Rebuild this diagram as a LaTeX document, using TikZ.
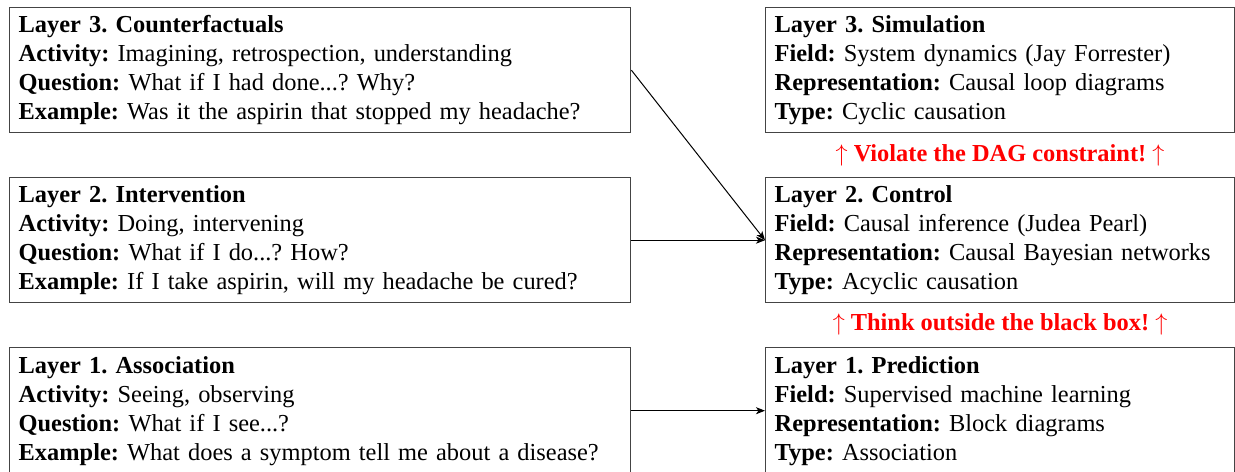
\documentclass[tikz,border=0pt]{standalone}
\usepackage{fontspec}
\setmainfont{Liberation Serif}
\usetikzlibrary{arrows.meta}
\definecolor{boxgray}{HTML}{444444}
\definecolor{warnred}{HTML}{FF0000}
\frenchspacing
\begin{document}
\begin{tikzpicture}[x=0.5pt,y=-0.5pt,
  bodyfont/.style={font=\fontsize{12.2}{14.5}\selectfont},
  lbox/.style={draw=boxgray, line width=0.7pt, anchor=north west, inner xsep=4.5pt, inner ysep=0pt,
    text width=301.5pt, minimum height=62.5pt, align=left, bodyfont},
  rbox/.style={lbox, text width=225.5pt},
  conn/.style={line width=0.5pt, -{Stealth[length=4.5pt,width=3.5pt,inset=1.2pt]}},
  warn/.style={text=warnred, font=\fontsize{12.2}{14.5}\selectfont\bfseries}]
\useasboundingbox (0,0) rectangle (1235,471);
\node[lbox] (l3) at (9,7) {\textbf{Layer 3. Counterfactuals}\\
\textbf{Activity:} Imagining, retrospection, understanding\\
\textbf{Question:} What if I had done...? Why?\\
\textbf{Example:} Was it the aspirin that stopped my headache?};
\node[lbox] (l2) at (9,177) {\textbf{Layer 2. Intervention}\\
\textbf{Activity:} Doing, intervening\\
\textbf{Question:} What if I do...? How?\\
\textbf{Example:} If I take aspirin, will my headache be cured?};
\node[lbox, minimum height=63pt] (l1) at (9,347) {\textbf{Layer 1. Association}\\
\textbf{Activity:} Seeing, observing\\
\textbf{Question:} What if I see...?\\
\textbf{Example:} What does a symptom tell me about a disease?};
\node[rbox] (r3) at (765,7) {\textbf{Layer 3. Simulation}\\
\textbf{Field:} System dynamics (Jay Forrester)\\
\textbf{Representation:} Causal loop diagrams\\
\textbf{Type:} Cyclic causation};
\node[rbox] (r2) at (765,177) {\textbf{Layer 2. Control}\\
\textbf{Field:} Causal inference (Judea Pearl)\\
\textbf{Representation:} Causal Bayesian networks\\
\textbf{Type:} Acyclic causation};
\node[rbox, minimum height=63pt] (r1) at (765,347) {\textbf{Layer 1. Prediction}\\
\textbf{Field:} Supervised machine learning\\
\textbf{Representation:} Block diagrams\\
\textbf{Type:} Association};
\node[warn] (w2) at (1000,155) {$\uparrow$ Violate the DAG constraint! $\uparrow$};
\node[warn] (w1) at (1000,324) {$\uparrow$ Think outside the black box! $\uparrow$};
\draw[conn] (l3.east) -- (r2.west);
\draw[conn] (l2.east) -- (r2.west);
\draw[conn] (l1.east) -- (r1.west);
\end{tikzpicture}
\end{document}
